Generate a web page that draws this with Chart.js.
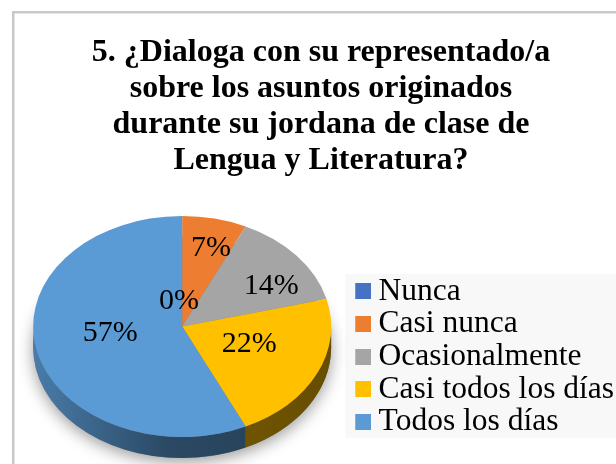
<!DOCTYPE html>
<html>
<head>
<meta charset="utf-8">
<script src="https://cdn.jsdelivr.net/npm/chart.js@4.4.1/dist/chart.umd.min.js"></script>
<style>
  html, body { margin: 0; padding: 0; background: #fff; overflow: hidden; }
  #wrap { width: 616px; height: 464px; overflow: hidden; }
  canvas { display: block; }
</style>
</head>
<body>
<div id="wrap"><canvas id="c" width="624" height="464"></canvas></div>
<script>
const titleLines = ['5. ¿Dialoga con su representado/a', 'sobre los asuntos originados', 'durante su jordana de clase de', 'Lengua y Literatura?'];
const categories = ['Nunca', 'Casi nunca', 'Ocasionalmente', 'Casi todos los días', 'Todos los días'];
const percents = [0, 7, 14, 22, 57];
const colors = ['#4472c4', '#ed7d31', '#a5a5a5', '#ffc000', '#5b9bd5'];

// where the % labels sit, as fraction of radius and a small turn (deg) off the slice middle
const labelRadius = [0.24, 0.745, 0.705, 0.474, 0.486];
const labelTurn = [-5, 2.5, 7.5, -7, 6.7];

const serif = '"Liberation Serif", "Times New Roman", serif';
const tilt = 0.742;
const depth = 21;

function shade(hex, f) {
  const n = parseInt(hex.slice(1), 16);
  const r = Math.round(((n >> 16) & 255) * f);
  const g = Math.round(((n >> 8) & 255) * f);
  const b = Math.round((n & 255) * f);
  return 'rgb(' + r + ',' + g + ',' + b + ')';
}

// little square swatch, shifted right inside its image so it lines up with the text
function swatch(color) {
  const c = document.createElement('canvas');
  c.width = 32; c.height = 16;
  const x = c.getContext('2d');
  x.fillStyle = color;
  x.fillRect(16, 0, 16, 16);
  return c;
}

const frame = {
  id: 'frame',
  beforeDraw(chart) {
    const ctx = chart.ctx;
    ctx.save();
    ctx.fillStyle = '#fff';
    ctx.fillRect(0, 0, chart.width, chart.height);
    ctx.strokeStyle = '#c9c9c9';
    ctx.lineWidth = 2.5;
    ctx.strokeRect(13.25, 12.25, chart.width + 20, chart.height + 20);
    const lg = chart.legend;
    const hb = lg.legendHitBoxes;
    if (hb && hb.length) {
      const top = hb[0].top - 1.5;
      const last = hb[hb.length - 1];
      ctx.fillStyle = '#f8f8f8';
      ctx.fillRect(lg.left - 1, top, chart.width, last.top + last.height - top);
    }
    ctx.restore();
  }
};

const pie3d = {
  id: 'pie3d',
  beforeDatasetsDraw(chart) {
    const ctx = chart.ctx;
    const arcs = chart.getDatasetMeta(0).data;
    const cx = arcs[0].x, cy = arcs[0].y, r = arcs[0].outerRadius;
    const ry = r * tilt;
    ctx.save();
    ctx.save();
    ctx.shadowColor = 'rgba(0,0,0,0.4)';
    ctx.shadowBlur = 16;
    ctx.shadowOffsetY = 4;
    ctx.fillStyle = '#777';
    ctx.beginPath();
    ctx.ellipse(cx, cy + depth, r, ry, 0, 0, Math.PI * 2);
    ctx.fill();
    ctx.restore();
    arcs.forEach((arc, i) => {
      const a0 = Math.max(arc.startAngle, 0);
      const a1 = Math.min(arc.endAngle, Math.PI);
      if (a1 <= a0) return;
      const g = ctx.createLinearGradient(cx - r, 0, cx + r, 0);
      g.addColorStop(0, shade(colors[i], 0.8));
      g.addColorStop(0.45, shade(colors[i], 0.47));
      g.addColorStop(1, shade(colors[i], 0.4));
      ctx.fillStyle = g;
      ctx.beginPath();
      ctx.ellipse(cx, cy, r, ry, 0, a0, a1);
      ctx.ellipse(cx, cy + depth, r, ry, 0, a1, a0, true);
      ctx.closePath();
      ctx.fill();
    });
    ctx.translate(cx, cy);
    ctx.scale(1, tilt);
    ctx.translate(-cx, -cy);
  },
  afterDatasetsDraw(chart) {
    const ctx = chart.ctx;
    ctx.restore();
    const arcs = chart.getDatasetMeta(0).data;
    const cx = arcs[0].x, cy = arcs[0].y, r = arcs[0].outerRadius;
    ctx.save();
    ctx.font = '30px ' + serif;
    ctx.fillStyle = '#000';
    ctx.textAlign = 'center';
    ctx.textBaseline = 'middle';
    arcs.forEach((arc, i) => {
      const mid = (arc.startAngle + arc.endAngle) / 2 + labelTurn[i] * Math.PI / 180;
      const d = labelRadius[i] * r;
      ctx.fillText(percents[i] + '%', cx + d * Math.cos(mid), cy + 1.5 + d * tilt * Math.sin(mid));
    });
    ctx.restore();
  }
};

new Chart(document.getElementById('c'), {
  type: 'pie',
  data: {
    labels: categories,
    datasets: [{
      data: percents,
      backgroundColor: colors,
      borderWidth: 0,
      radius: 149,
      clip: false
    }]
  },
  options: {
    responsive: false,
    animation: false,
    layout: { padding: { left: 18, right: 0, top: 0, bottom: 25 } },
    plugins: {
      tooltip: { enabled: false },
      title: {
        display: true,
        text: titleLines,
        color: '#000',
        font: { family: serif, size: 32, weight: 'bold', lineHeight: 1.125 },
        padding: { top: 35, bottom: 35 }
      },
      legend: {
        position: 'right',
        align: 'end',
        labels: {
          color: '#000',
          font: { family: serif, size: 31.5 },
          usePointStyle: true,
          pointStyleWidth: 15.3,
          padding: 1.2,
          generateLabels(chart) {
            const items = Chart.overrides.doughnut.plugins.legend.labels.generateLabels(chart);
            items.forEach((it, i) => { it.pointStyle = swatch(colors[i]); });
            return items;
          }
        }
      }
    }
  },
  plugins: [frame, pie3d]
});
</script>
</body>
</html>
